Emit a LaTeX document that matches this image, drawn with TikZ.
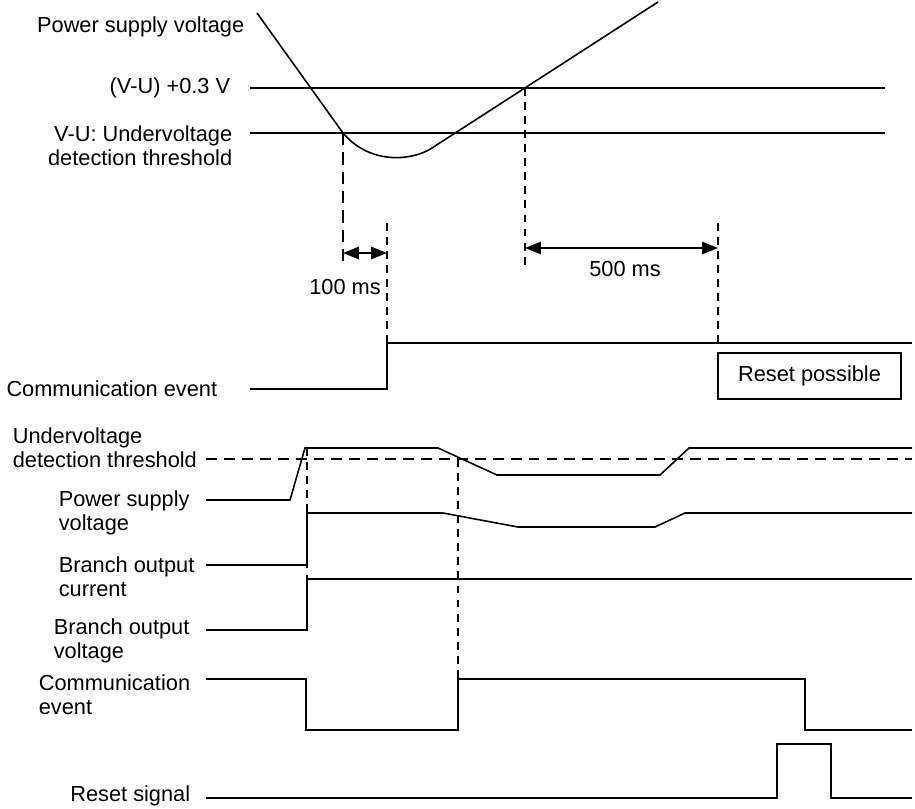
\documentclass[tikz,border=0pt]{standalone}
\usepackage{fontspec}
\setmainfont{Liberation Sans}
\usetikzlibrary{arrows.meta}

\begin{document}
\begin{tikzpicture}[x=0.02cm,y=-0.02cm,line width=0.9pt,
  lbl/.style={font=\fontsize{12.4}{13.8}\selectfont,inner sep=0pt},
  longdash/.style={line width=0.8pt,dash pattern=on 7pt off 4pt},
  shortdash/.style={line width=0.8pt,dash pattern=on 4.5pt off 3.5pt},
  dimarrow/.style={{Triangle[length=9pt,width=7pt]}-{Triangle[length=9pt,width=7pt]}}]
  \useasboundingbox (0,0) rectangle (915,808);
  \node[lbl,anchor=east] (psvtop) at (245,27) {Power supply voltage};
  \node[lbl,anchor=east] (vu03) at (231,88) {(V-U) +0.3 V};
  \node[lbl,anchor=east,align=right] (vuthr) at (233,146) {V-U: Undervoltage\\detection threshold};
  \draw (250,88) -- (885,88);
  \draw (250,133) -- (885,133);
  \draw (257,13) -- (343,133) .. controls (370,165) and (412,161) .. (432,148) -- (658,2);
  \draw[longdash] (343,133) -- (343,268);
  \draw[shortdash] (387,223) -- (387,343);
  \draw[shortdash] (525,88) -- (525,268);
  \draw[shortdash] (718,223) -- (718,343);
  \coordinate (a1) at (343,253);
  \coordinate (a2) at (387,253);
  \coordinate (b1) at (525,248);
  \coordinate (b2) at (718,248);
  \draw[dimarrow] (a1) -- (a2);
  \draw[dimarrow] (b1) -- (b2);
  \node[lbl] (t100) at (345,287) {100 ms};
  \node[lbl] (t500) at (625,269) {500 ms};
  \node[lbl,anchor=east] (cetop) at (218,389) {Communication event};
  \draw (250,389) -- (387,389) -- (387,343) -- (912,343);
  \node[lbl,draw,line width=0.9pt,minimum width=3.66cm,minimum height=0.92cm] (rp) at (809.5,376) {Reset possible};
  \node[lbl,anchor=west,align=left] (uvthr) at (12,448) {Undervoltage\\detection threshold};
  \node[lbl,anchor=west,align=left] (psv) at (58,513) {Power supply\\voltage};
  \node[lbl,anchor=west,align=left] (boc) at (58,577) {Branch output\\current};
  \node[lbl,anchor=west,align=left] (bov) at (53,641) {Branch output\\voltage};
  \node[lbl,anchor=west,align=left] (ce) at (38,695) {Communication\\event};
  \node[lbl,anchor=east] (rs) at (191,796) {Reset signal};
  \draw[dash pattern=on 6.2pt off 4pt] (206,459) -- (912,459);
  \draw (206,500) -- (290,500) -- (305,448) -- (438,448) -- (497,475) -- (660,475) -- (689,448) -- (912,448);
  \draw (206,565) -- (307,565) -- (307,513) -- (443,513) -- (518,527) -- (655,527) -- (685,513) -- (912,513);
  \draw (206,630) -- (307,630) -- (307,579) -- (912,579);
  \draw[shortdash] (307,448) -- (307,579);
  \draw[shortdash] (458,459) -- (458,679);
  \draw (206,679) -- (306,679) -- (306,730) -- (458,730) -- (458,679) -- (805,679) -- (805,730) -- (912,730);
  \draw (206,798) -- (777,798) -- (777,744) -- (831,744) -- (831,798) -- (912,798);
\end{tikzpicture}
\end{document}
